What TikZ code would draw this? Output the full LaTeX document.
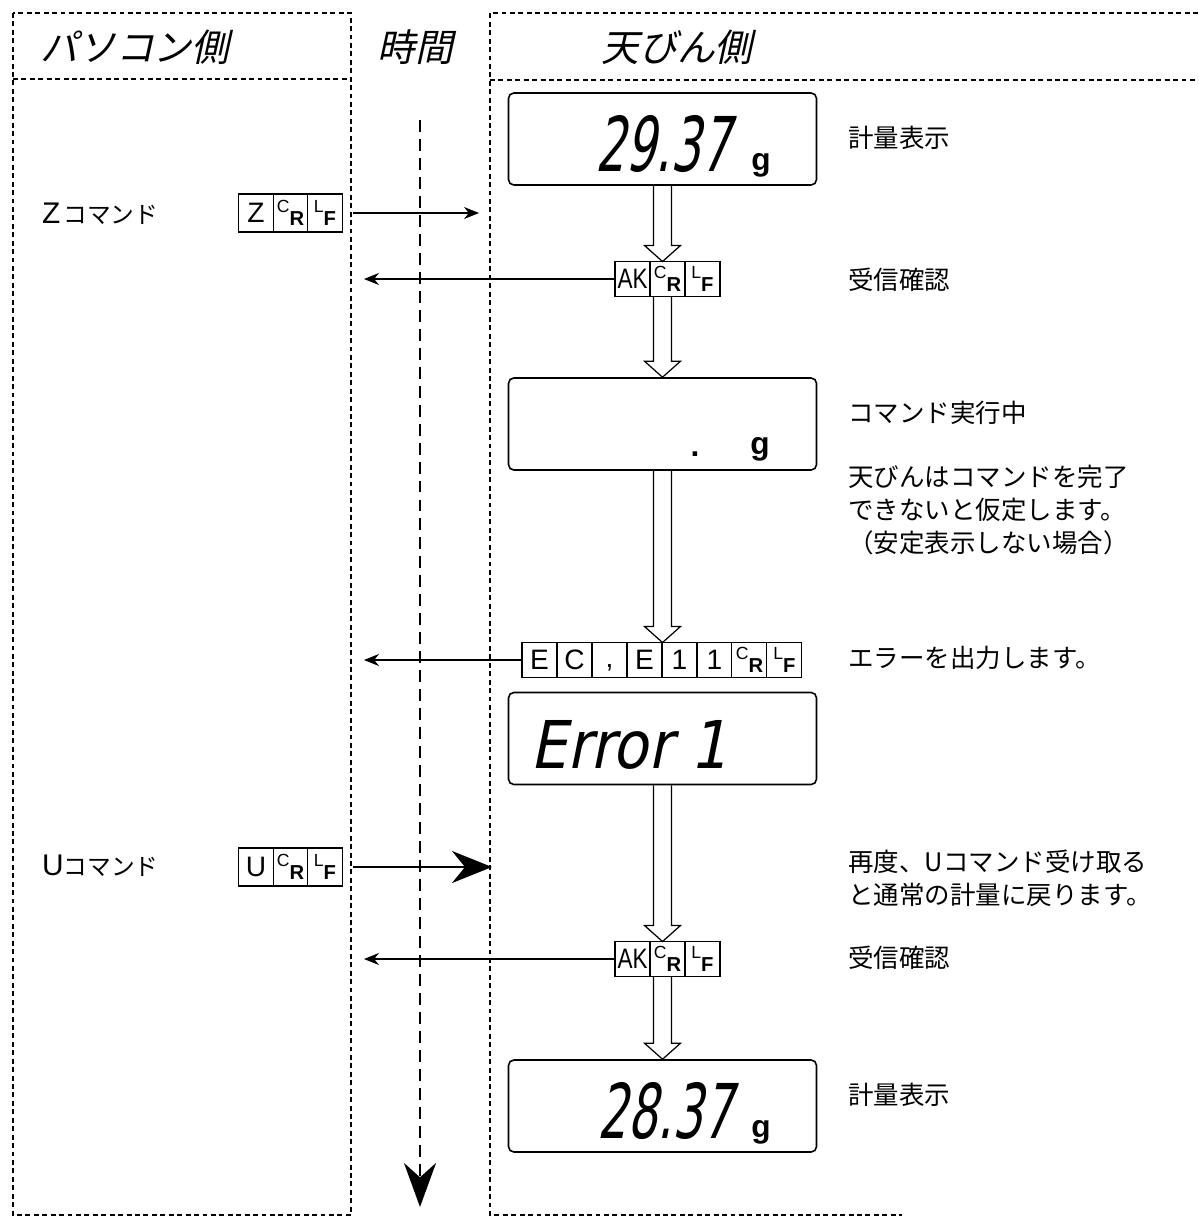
\documentclass[tikz,border=0pt]{standalone}
\usepackage{fontspec}
\setmainfont{Noto Sans CJK JP}
\newfontfamily\jpslant[FakeSlant=0.22]{Noto Sans CJK JP}
\newfontfamily\latinfont{Liberation Sans}
\newfontfamily\segfont[FakeSlant=0.2,FakeStretch=0.62]{DejaVu Sans}
\newfontfamily\segwide[FakeSlant=0.2,FakeStretch=0.88]{DejaVu Sans}
\usepackage{tikz}
\usetikzlibrary{arrows.meta, positioning, calc}

\newcommand{\crkey}{\raisebox{5pt}{\fontsize{10}{10}\selectfont C}\raisebox{-2.5pt}{\fontsize{11.5}{11.5}\selectfont\bfseries R}}
\newcommand{\lfkey}{\raisebox{5pt}{\fontsize{10}{10}\selectfont L}\raisebox{-2.5pt}{\fontsize{11.5}{11.5}\selectfont\bfseries F}}
\newcommand{\hollowarrow}[2]{%
  \draw[hollow_arrow] ($(#1)+(-9,0)$) -- ($(#2)+(-9,-16)$) -- ($(#2)+(-18,-16)$) -- (#2)
    -- ($(#2)+(18,-16)$) -- ($(#2)+(9,-16)$) -- ($(#1)+(9,0)$);}

\begin{document}
\begin{tikzpicture}[x=0.02cm, y=-0.02cm,
    panel_line/.style={line width=1.4pt, dash pattern=on 2.8pt off 2pt},
    disp_box/.style={draw, line width=0.9pt, rounded corners=3pt, minimum width=6.16cm, minimum height=1.84cm},
    key_cell/.style={draw, line width=0.6pt, minimum width=0.7cm, minimum height=0.7cm, inner sep=0pt, outer sep=0pt,
      font={\latinfont\fontsize{16}{16}\selectfont}},
    cmd_cell/.style={key_cell, minimum width=0.69cm, minimum height=0.76cm},
    seg_text/.style={anchor=base, font={\segfont\fontsize{43}{43}\selectfont}},
    unit_text/.style={anchor=base, font={\latinfont\bfseries\fontsize{18}{18}\selectfont}},
    head_text/.style={font={\jpslant\fontsize{21.5}{21.5}\selectfont}},
    note_text/.style={anchor=west, align=left, inner sep=0pt, font={\fontsize{14.5}{19}\selectfont}},
    hollow_arrow/.style={line width=0.7pt},
    msg_arrow/.style={-{Stealth[length=0.3cm, width=0.24cm]}, line width=0.6pt},
    big_arrow/.style={-{Stealth[length=0.8cm, width=0.64cm]}, line width=1.3pt},
    time_arrow/.style={-{Stealth[length=0.88cm, width=0.64cm]}, line width=1.4pt, dash pattern=on 6.8pt off 4pt},
    ]
    \useasboundingbox (0,0) rectangle (1198,1220);

    % Panels
    \draw[panel_line] (13,13) rectangle (351,1215);
    \draw[panel_line] (13,79) -- (351,79);
    \draw[panel_line] (1198,13) -- (490,13) -- (490,1215) -- (902,1215);
    \draw[panel_line] (490,80) -- (1198,80);
    \node[head_text] (pchead) at (135,47) {パソコン側};
    \node[head_text] (timehead) at (415,47) {時間};
    \node[head_text] (balhead) at (677,47) {天びん側};

    % Displays
    \node[disp_box] (d1) at (662.5,139) {};
    \node[seg_text] (d1num) at (663,172) {29.37};
    \node[unit_text] (d1unit) at (761,171) {g};
    \node[disp_box] (d2) at (662.5,424) {};
    \node[unit_text] (d2dot) at (695,456) {.};
    \node[unit_text] (d2unit) at (760,454) {g};
    \node[disp_box] (d3) at (662.5,738.5) {};
    \node[seg_text, font={\segwide\fontsize{37.5}{37.5}\selectfont}] (d3text) at (629,768) {Error 1};
    \node[disp_box] (d4) at (662.5,1106) {};
    \node[seg_text] (d4num) at (665,1138) {28.37};
    \node[unit_text] (d4unit) at (761,1137) {g};

    % Packets from the balance
    \node[key_cell] (ak1a) at (632.5,279) {\scalebox{0.8}[1]{AK}};
    \node[key_cell] (ak1b) [right=0pt of ak1a] {\crkey};
    \node[key_cell] (ak1c) [right=0pt of ak1b] {\lfkey};
    \node[key_cell] (ec1) at (539.5,660) {E};
    \node[key_cell] (ec2) [right=0pt of ec1] {C};
    \node[key_cell] (ec3) [right=0pt of ec2] {\vphantom{E},};
    \node[key_cell] (ec4) [right=0pt of ec3] {E};
    \node[key_cell] (ec5) [right=0pt of ec4] {1};
    \node[key_cell] (ec6) [right=0pt of ec5] {1};
    \node[key_cell] (ec7) [right=0pt of ec6] {\crkey};
    \node[key_cell] (ec8) [right=0pt of ec7] {\lfkey};
    \node[key_cell] (ak2a) at (632.5,959) {\scalebox{0.8}[1]{AK}};
    \node[key_cell] (ak2b) [right=0pt of ak2a] {\crkey};
    \node[key_cell] (ak2c) [right=0pt of ak2b] {\lfkey};

    % Commands from the PC
    \node[cmd_cell] (za) at (256,213) {Z};
    \node[cmd_cell] (zb) [right=0pt of za] {\crkey};
    \node[cmd_cell] (zc) [right=0pt of zb] {\lfkey};
    \node[cmd_cell] (ua) at (256,867) {U};
    \node[cmd_cell] (ub) [right=0pt of ua] {\crkey};
    \node[cmd_cell] (uc) [right=0pt of ub] {\lfkey};
    \node[anchor=west] (zlabel) at (36,214) {{\latinfont\fontsize{17}{17}\selectfont Z}\,{\fontsize{13.5}{13.5}\selectfont コマンド}};
    \node[anchor=west] (ulabel) at (36,866) {{\latinfont\fontsize{17}{17}\selectfont U}{\fontsize{13.5}{13.5}\selectfont コマンド}};

    % Notes
    \node[note_text] (n1) at (848,138) {計量表示};
    \node[note_text] (n2) at (848,280) {受信確認};
    \node[note_text] (n3) at (848,413) {コマンド実行中};
    \node[note_text] (n4) at (848,510) {天びんはコマンドを完了\\できないと仮定します。\\（安定表示しない場合）};
    \node[note_text] (n5) at (848,658) {エラーを出力します。};
    \node[note_text] (n6) at (848,878) {再度、Uコマンド受け取る\\と通常の計量に戻ります。};
    \node[note_text] (n7) at (848,958) {受信確認};
    \node[note_text] (n8) at (848,1095) {計量表示};

    % Hollow arrows
    \coordinate (t1) at (d1.south |- ak1b.north);
    \coordinate (s2) at (d1.south |- ak1b.south);
    \coordinate (t3) at (d2.south |- ec4.north);
    \coordinate (t4) at (d3.south |- ak2b.north);
    \coordinate (s5) at (d3.south |- ak2b.south);
    \hollowarrow{d1.south}{t1}
    \hollowarrow{s2}{d2.north}
    \hollowarrow{d2.south}{t3}
    \hollowarrow{d3.south}{t4}
    \hollowarrow{s5}{d4.north}

    % Arrows
    \coordinate (zin) at (479,213);
    \coordinate (uin) at (492,867);
    \coordinate (ak1out) at (364,279);
    \coordinate (ecout) at (364,660);
    \coordinate (ak2out) at (364,959);
    \draw[msg_arrow, shorten <=0.22cm] (zc.east) -- (zin);
    \draw[big_arrow, shorten <=0.22cm] (uc.east) -- (uin);
    \draw[msg_arrow] (ak1a.west) -- (ak1out);
    \draw[msg_arrow] (ec1.west) -- (ecout);
    \draw[msg_arrow] (ak2a.west) -- (ak2out);

    % Time axis
    \coordinate (ttop) at (420,120);
    \coordinate (tbot) at (420,1207);
    \draw[time_arrow] (ttop) -- (tbot);
\end{tikzpicture}
\end{document}
